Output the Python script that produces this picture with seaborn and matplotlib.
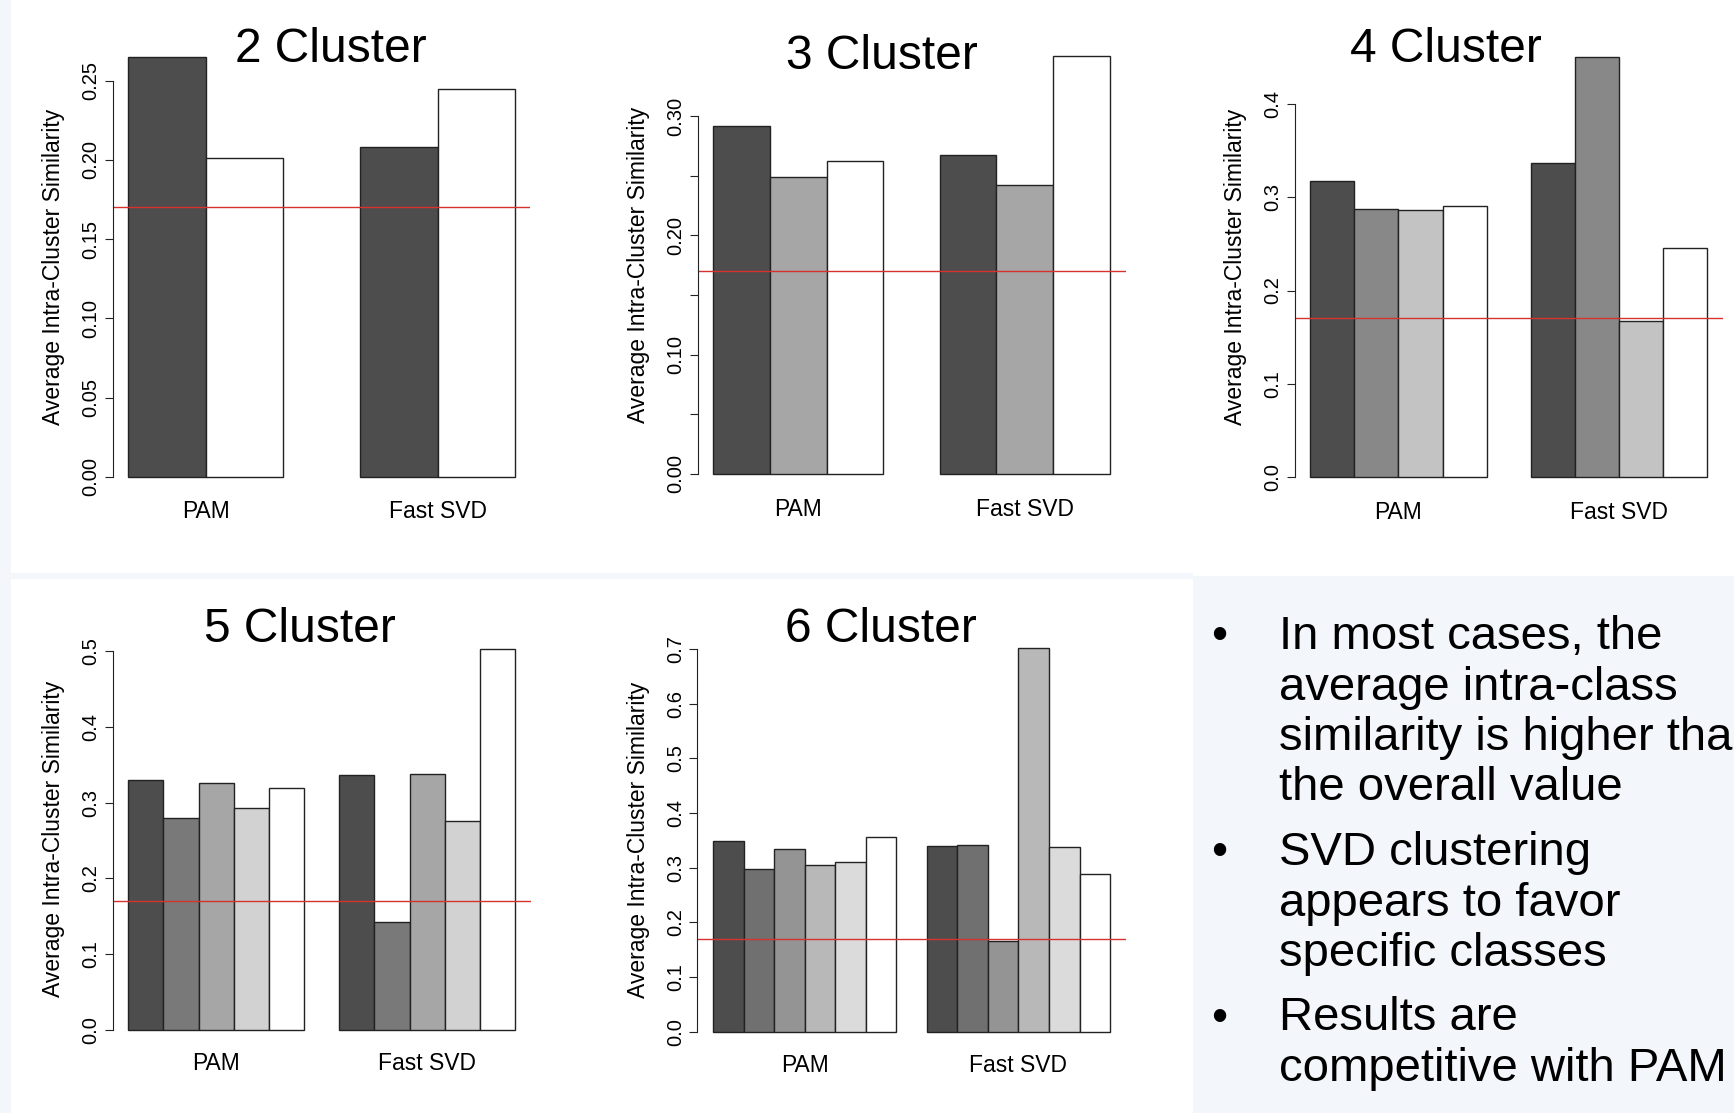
import matplotlib.pyplot as plt
import seaborn as sns
import pandas as pd
import numpy as np
from matplotlib.patches import Rectangle

sns.set_theme(style="ticks")
plt.rcParams['font.family'] = ['Liberation Sans', 'DejaVu Sans']

# Average intra-cluster similarity per class
methods = ['PAM', 'Fast SVD']

pam_2 = [0.265, 0.201]
svd_2 = [0.208, 0.245]

pam_3 = [0.292, 0.249, 0.262]
svd_3 = [0.267, 0.242, 0.350]

pam_4 = [0.318, 0.288, 0.287, 0.291]
svd_4 = [0.337, 0.451, 0.167, 0.246]

pam_5 = [0.330, 0.279, 0.326, 0.293, 0.319]
svd_5 = [0.336, 0.142, 0.337, 0.275, 0.503]

pam_6 = [0.348, 0.298, 0.334, 0.304, 0.311, 0.356]
svd_6 = [0.339, 0.342, 0.165, 0.702, 0.337, 0.288]

# overall similarity (red reference line)
overall = 0.17

yticks_2 = [0.00, 0.05, 0.10, 0.15, 0.20, 0.25]
ylabels_2 = ['0.00', '0.05', '0.10', '0.15', '0.20', '0.25']
yticks_3 = [0.00, 0.05, 0.10, 0.15, 0.20, 0.25, 0.30]
ylabels_3 = ['0.00', '', '0.10', '', '0.20', '', '0.30']
yticks_4 = [0.0, 0.1, 0.2, 0.3, 0.4]
ylabels_4 = ['0.0', '0.1', '0.2', '0.3', '0.4']
yticks_5 = [0.0, 0.1, 0.2, 0.3, 0.4, 0.5]
ylabels_5 = ['0.0', '0.1', '0.2', '0.3', '0.4', '0.5']
yticks_6 = [0.0, 0.1, 0.2, 0.3, 0.4, 0.5, 0.6, 0.7]
ylabels_6 = ['0.0', '0.1', '0.2', '0.3', '0.4', '0.5', '0.6', '0.7']

bullets = [
    ["In most cases, the", "average intra-class",
     "similarity is higher than", "the overall value"],
    ["SVD clustering", "appears to favor", "specific classes"],
    ["Results are", "competitive with PAM"],
]

W, H = 1734, 1113
fig = plt.figure(figsize=(W / 100, H / 100), dpi=100, facecolor='white')


def px_box(left, top, right, bottom):
    return [left / W, 1 - bottom / H, (right - left) / W, (bottom - top) / H]


# slide background bits (light blue)
bg = '#f3f7fc'
for (l, t, r, b) in [(0, 0, 11, H), (0, 573, 1193, 579), (1193, 576, W, H)]:
    fig.add_artist(Rectangle((l / W, 1 - b / H), (r - l) / W, (b - t) / H,
                             transform=fig.transFigure, color=bg, zorder=-1, lw=0))

panels = [
    ('2 Cluster', pam_2, svd_2, yticks_2, ylabels_2, (112.8, 40.2, 530.4, 493.5), (330.7, 62.5)),
    ('3 Cluster', pam_3, svd_3, yticks_3, ylabels_3, (697.5, 39.8, 1125.5, 490.6), (881.5, 68.6)),
    ('4 Cluster', pam_4, svd_4, yticks_4, ylabels_4, (1294.5, 40.0, 1722.8, 493.6), (1445.9, 62.5)),
    ('5 Cluster', pam_5, svd_5, yticks_5, ylabels_5, (112.8, 633.3, 530.5, 1045.3), (299.6, 641.8)),
    ('6 Cluster', pam_6, svd_6, yticks_6, ylabels_6, (697.4, 632.5, 1125.9, 1047.0), (880.4, 641.8)),
]

for title, pam, svd, yt, yl, box, tpos in panels:
    n = len(pam)
    ax = fig.add_axes(px_box(*box))
    ax.set_facecolor('white')
    df = pd.DataFrame({
        'method': np.repeat(methods, n),
        'cls': [str(i + 1) for i in range(n)] * 2,
        'value': pam + svd,
    })
    greys = [(g, g, g) for g in np.linspace(0.3, 1.0, n)]
    w = n / (n + 1)  # R barplot: one empty bar between groups
    sns.barplot(data=df, x='method', y='value', hue='cls', order=methods,
                palette=greys, width=w, edgecolor='#222222', linewidth=1.0,
                errorbar=None, legend=False, ax=ax)
    ax.axhline(overall, color='#d93030', lw=1.0)

    pad = 0.04 * (1 + w)
    ax.set_xlim(-w / 2 - pad, 1 + w / 2 + pad)
    ymax = max(pam + svd)
    ax.set_ylim(-0.04 * ymax, 1.04 * ymax)

    ax.set_yticks(yt)
    ax.set_yticklabels(yl, rotation=90, va='center')
    for s in ['top', 'right', 'bottom']:
        ax.spines[s].set_visible(False)
    ax.spines['left'].set_bounds(yt[0], yt[-1])
    ax.spines['left'].set_color('#222222')
    ax.spines['left'].set_linewidth(0.8)
    ax.tick_params(axis='y', left=True, length=5.8, width=0.8, pad=3,
                   labelsize=14.5, color='#222222', labelcolor='black')
    ax.tick_params(axis='x', bottom=False, length=0, pad=5, labelsize=16.5,
                   labelcolor='black')
    ax.set_xlabel('')
    ax.set_ylabel('Average Intra-Cluster Similarity', fontsize=16.5,
                  labelpad=12, color='black')

    fig.text(tpos[0] / W, 1 - tpos[1] / H, title, fontsize=34.5,
             ha='center', va='baseline', color='black')

# bullet text box
y = 649
for para in bullets:
    fig.text(1218.7 / W, 1 - y / H, '\u2022', fontsize=33, ha='center',
             va='baseline', color='black')
    for line in para:
        fig.text(1279 / W, 1 - y / H, line, fontsize=34, ha='left',
                 va='baseline', color='black')
        y += 50.5
    y += 14

fig.savefig('out.png', dpi=100, facecolor=fig.get_facecolor())
